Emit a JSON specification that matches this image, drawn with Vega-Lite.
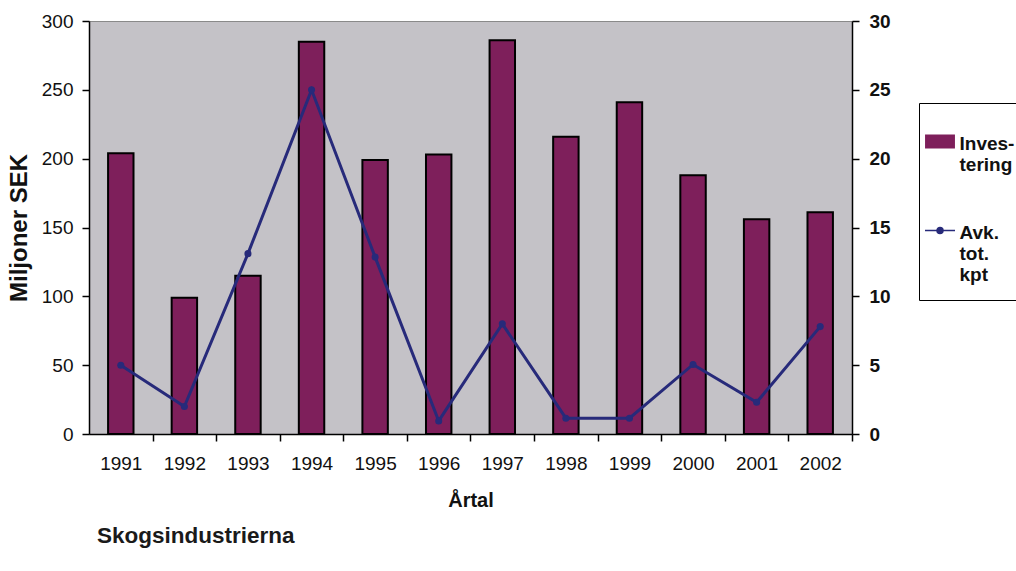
{
  "$schema": "https://vega.github.io/schema/vega-lite/v6.json",
  "width": 763,
  "height": 413,
  "autosize": {"type": "none"},
  "padding": {"left": 89, "top": 21, "right": 164, "bottom": 137},
  "background": "white",
  "config": {
    "font": "Liberation Sans",
    "view": {"fill": "#c4c2c7", "stroke": "#8a8a8a", "strokeWidth": 1}
  },
  "title": {
    "text": "Skogsindustrierna",
    "orient": "bottom",
    "anchor": "start",
    "frame": "group",
    "dx": 8,
    "offset": 15,
    "fontSize": 22.5,
    "fontWeight": "bold",
    "color": "#1a1a1a",
    "font": "Liberation Sans"
  },
  "data": {
    "values": [
      {"year": "1991", "investering": 204, "avk": 5.0},
      {"year": "1992", "investering": 99, "avk": 2.0},
      {"year": "1993", "investering": 115, "avk": 13.1},
      {"year": "1994", "investering": 285, "avk": 25.0},
      {"year": "1995", "investering": 199, "avk": 12.85},
      {"year": "1996", "investering": 203, "avk": 0.95},
      {"year": "1997", "investering": 286, "avk": 8.0},
      {"year": "1998", "investering": 216, "avk": 1.15},
      {"year": "1999", "investering": 241, "avk": 1.15},
      {"year": "2000", "investering": 188, "avk": 5.05},
      {"year": "2001", "investering": 156, "avk": 2.3},
      {"year": "2002", "investering": 161, "avk": 7.8}
    ]
  },
  "encoding": {
    "x": {
      "field": "year",
      "type": "ordinal",
      "scale": {"paddingInner": 0.6, "paddingOuter": 0.3},
      "axis": {
        "title": "Årtal",
        "titleFontSize": 20,
        "titleFontWeight": "bold",
        "titleColor": "#111",
        "titlePadding": 17,
        "labelAngle": 0,
        "labelFontSize": 19,
        "labelColor": "#111",
        "labelPadding": 13,
        "labelOffset": -19,
        "domainColor": "black",
        "domainWidth": 1.5,
        "tickColor": "black",
        "tickWidth": 1.5,
        "tickSize": 7,
        "bandPosition": 1,
        "tickOffset": 19,
        "grid": false
      }
    }
  },
  "layer": [
    {
      "mark": {"type": "bar", "stroke": "black", "strokeWidth": 2},
      "encoding": {
        "y": {
          "field": "investering",
          "type": "quantitative",
          "scale": {"domain": [0, 300]},
          "axis": {
            "orient": "left",
            "values": [0, 50, 100, 150, 200, 250, 300],
            "title": "Miljoner SEK",
            "titleFontSize": 24,
            "titleFontWeight": "bold",
            "titleColor": "#111",
            "titlePadding": 10,
            "labelFontSize": 19,
            "labelColor": "#111",
            "labelPadding": 9,
            "domainColor": "black",
            "domainWidth": 1.5,
            "tickColor": "black",
            "tickWidth": 1.5,
            "tickSize": 7,
            "grid": false
          }
        },
        "color": {
          "datum": "Investering",
          "scale": {
            "domain": ["Investering", "Avk. tot. kpt"],
            "range": ["#7e1f5b", "#272a7a"]
          },
          "legend": {
            "orient": "none",
            "legendX": 830,
            "legendY": 82,
            "title": " ",
            "titleFontSize": 4,
            "titlePadding": 3,
            "strokeColor": "black",
            "fillColor": "white",
            "padding": 15,
            "rowPadding": 39,
            "labelFontSize": 19,
            "labelFontWeight": "bold",
            "labelColor": "#111",
            "labelOffset": 10,
            "symbolOffset": -3.5,
            "labelBaseline": "top",
            "labelExpr": "datum.value == 'Investering' ? ['Inves-', 'tering'] : ['Avk.', 'tot.', 'kpt']",
            "symbolSize": 900,
            "symbolType": {"expr": "datum.value == 'Investering' ? 'M-0.93,0.07H0.93V0.87H-0.93Z' : 'M-1,0.467H1M-0.2,0.467A0.2,0.2,0,1,1,0.2,0.467A0.2,0.2,0,1,1,-0.2,0.467Z'"},
            "symbolStrokeColor": {"expr": "datum.value == 'Investering' ? 'black' : '#272a7a'"},
            "symbolStrokeWidth": {"expr": "datum.value == 'Investering' ? 2 : 1.5"},
            "symbolOpacity": 1
          }
        }
      }
    },
    {
      "mark": {"type": "line", "strokeWidth": 3, "point": {"filled": true, "size": 50}},
      "encoding": {
        "y": {
          "field": "avk",
          "type": "quantitative",
          "scale": {"domain": [0, 30]},
          "axis": {
            "orient": "right",
            "values": [0, 5, 10, 15, 20, 25, 30],
            "title": null,
            "labelFontSize": 19,
            "labelFontWeight": "bold",
            "labelColor": "#111",
            "labelPadding": 10,
            "domainColor": "black",
            "domainWidth": 1.5,
            "tickColor": "black",
            "tickWidth": 1.5,
            "tickSize": 7,
            "grid": false
          }
        },
        "color": {"datum": "Avk. tot. kpt", "legend": null}
      }
    }
  ],
  "resolve": {"scale": {"y": "independent"}}
}
